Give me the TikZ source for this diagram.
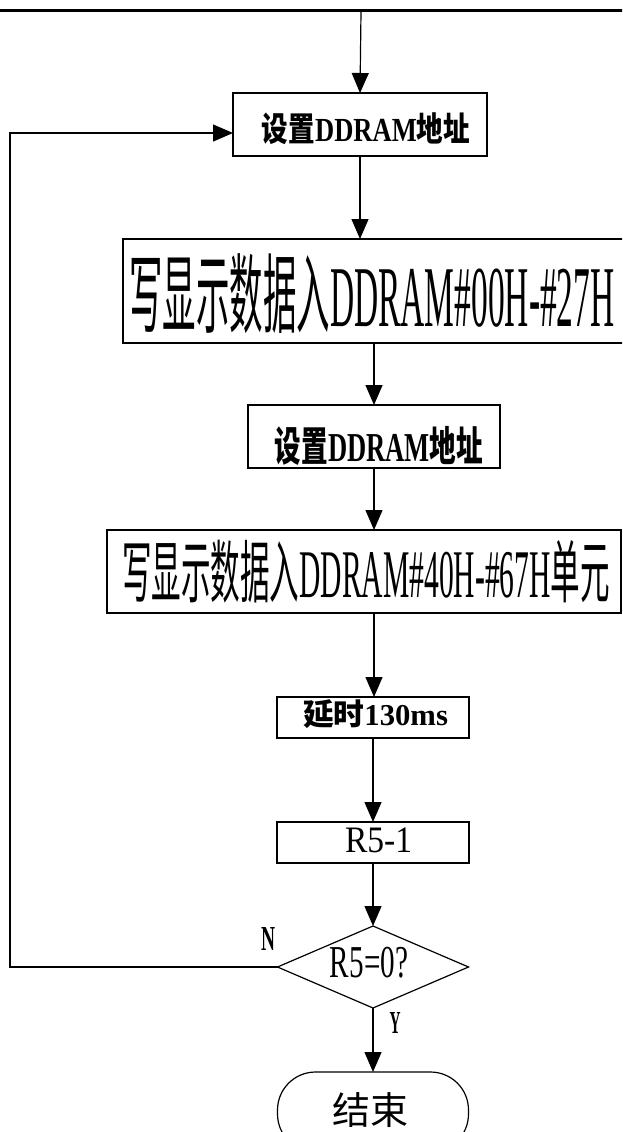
\documentclass[tikz,border=0pt]{standalone}
\usepackage{fontspec}
\setmainfont{Liberation Serif}
\newfontfamily\cjk{Noto Sans CJK SC}
\usetikzlibrary{arrows.meta,shapes.geometric}
\newcommand{\fitbox}[3]{\resizebox*{#1pt}{#2pt}{#3}}
\begin{document}
\begin{tikzpicture}[x=1pt,y=-1pt,
  box/.style={draw, line width=1.2pt, inner sep=0pt, outer sep=0pt},
  txt/.style={inner sep=0pt, outer sep=0pt},
  arr/.style={line width=1.2pt, -{Triangle[length=20pt,width=17pt]}},
  ln/.style={line width=1.2pt}]
\useasboundingbox (0,0) rectangle (622,1132);
\clip (0,0) rectangle (622,1132);

% top border line
\draw[line width=3pt] (-5,10.5) -- (627,10.5);
\coordinate (top) at (361,12);

% boxes
\node[box, minimum width=254pt, minimum height=63pt] (b1) at (360,124.5) {};
\node[txt] (t1) at (366,129) {\fitbox{208}{32}{\bfseries\cjk 设置\rmfamily\bfseries DDRAM\cjk\bfseries 地址}};

\node[box, minimum width=511pt, minimum height=104pt] (b2) at (378.5,291) {};
\node[txt] (t2) at (372,294) {\fitbox{485}{80}{\cjk 写显示数据入\rmfamily DDRAM\#00H-\#27H}};

\node[box, minimum width=252pt, minimum height=63pt] (b3) at (374,436.5) {};
\node[txt] (t3) at (379,446) {\fitbox{208}{39}{\bfseries\cjk 设置\rmfamily\bfseries DDRAM\cjk\bfseries 地址}};

\node[box, minimum width=514pt, minimum height=83pt] (b4) at (364,571.5) {};
\node[txt] (t4) at (366,571.5) {\fitbox{488}{63}{\cjk 写显示数据入\rmfamily DDRAM\#40H-\#67H\cjk 单元}};

\node[box, minimum width=192pt, minimum height=41pt] (b5) at (373,717.5) {};
\node[txt] (t5) at (375.5,714.5) {\fitbox{145}{29}{\bfseries\cjk 延时\rmfamily\bfseries 130ms}};

\node[box, minimum width=192pt, minimum height=41pt] (b6) at (373,842.5) {};
\node[txt] (t6) at (378.5,840.5) {\fitbox{67}{25}{R5-1}};

\node[draw, line width=1.2pt, diamond, shape aspect=2.33, inner sep=0pt, outer sep=0pt,
      minimum width=191pt, minimum height=82pt] (d) at (373,967) {};
\node[txt] (td) at (369,962.5) {\fitbox{78}{31}{R5=0?}};

\node[draw, line width=1.2pt, rounded corners=38pt, inner sep=0pt, outer sep=0pt,
      minimum width=191pt, minimum height=80pt] (e) at (373,1112) {};
\node[txt] (te) at (370,1110) {\fitbox{76}{35}{\cjk 结束}};

\node[txt] (lN) at (268,938.5) {\fitbox{14}{23}{\bfseries N}};
\node[txt] (lY) at (395,1023) {\fitbox{11}{21}{\bfseries Y}};

% connectors
\draw[arr] (top) -- (b1.north);
\draw[arr] (b1.south) -- (b1.south |- b2.north);
\draw[arr] (b3.north |- b2.south) -- (b3.north);
\draw[arr] (b3.south) -- (b3.south |- b4.north);
\draw[arr] (b3.south |- b4.south) -- (b3.south |- b5.north);
\draw[arr] (b5.south) -- (b6.north);
\draw[arr] (b6.south) -- (d.north);
\draw[arr] (d.south) -- (e.north);

\coordinate (lb) at (10,967);
\coordinate (lt) at (10,133);
\draw[arr] (d.west) -- (lb) -- (lt) -- (lt -| b1.west);
\end{tikzpicture}
\end{document}
